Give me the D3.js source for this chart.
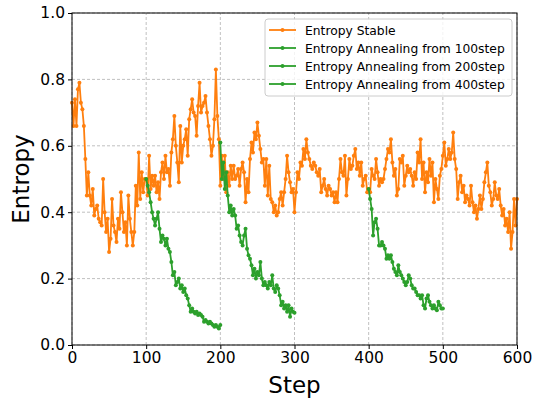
<!DOCTYPE html>
<html>
<head>
<meta charset="utf-8">
<script src="https://cdn.jsdelivr.net/npm/d3@7"></script>
<style>
  html, body { margin: 0; padding: 0; background: #fff; }
  svg { display: block; font-family: "DejaVu Sans", sans-serif; }
</style>
</head>
<body>
<svg id="chart" width="536" height="405"></svg>
<script>
// ---- data ----
const xTicks = [0, 100, 200, 300, 400, 500, 600];
const yTicks = [0.0, 0.2, 0.4, 0.6, 0.8, 1.0];
const seriesNames = ["Entropy Stable", "Entropy Annealing from 100step", "Entropy Annealing from 200step", "Entropy Annealing from 400step"];
const seriesColors = ["#ff7f0e", "#2ca02c", "#2ca02c", "#2ca02c"];

// Stable: steps 0..600 every 2
const stableStart = 0, stableEvery = 2;
const stableValues = [
  0.73, 0.66, 0.74, 0.66, 0.77, 0.79, 0.73, 0.71, 0.66, 0.56,
  0.45, 0.52, 0.45, 0.42, 0.47, 0.39, 0.41, 0.42, 0.38, 0.37,
  0.36, 0.50, 0.40, 0.34, 0.38, 0.28, 0.32, 0.44, 0.36, 0.34,
  0.31, 0.38, 0.35, 0.46, 0.40, 0.34, 0.37, 0.30, 0.45, 0.38,
  0.34, 0.30, 0.34, 0.48, 0.42, 0.58, 0.44, 0.52, 0.46, 0.50,
  0.50, 0.45, 0.57, 0.47, 0.51, 0.48, 0.51, 0.46, 0.49, 0.44,
  0.52, 0.55, 0.50, 0.57, 0.52, 0.53, 0.48, 0.58, 0.62, 0.69,
  0.60, 0.55, 0.49, 0.66, 0.55, 0.60, 0.62, 0.65, 0.57, 0.68,
  0.71, 0.74, 0.70, 0.69, 0.63, 0.72, 0.79, 0.70, 0.72, 0.73,
  0.75, 0.70, 0.66, 0.62, 0.57, 0.60, 0.68, 0.83, 0.69, 0.62,
  0.48, 0.57, 0.50, 0.57, 0.46, 0.52, 0.48, 0.54, 0.50, 0.54,
  0.50, 0.51, 0.53, 0.48, 0.53, 0.55, 0.52, 0.43, 0.50, 0.46,
  0.56, 0.61, 0.58, 0.64, 0.62, 0.67, 0.63, 0.59, 0.55, 0.56,
  0.48, 0.56, 0.45, 0.54, 0.44, 0.43, 0.40, 0.42, 0.39, 0.40,
  0.44, 0.46, 0.42, 0.46, 0.50, 0.57, 0.52, 0.49, 0.46, 0.47,
  0.40, 0.46, 0.52, 0.50, 0.55, 0.54, 0.59, 0.56, 0.62, 0.58,
  0.56, 0.54, 0.53, 0.55, 0.54, 0.52, 0.51, 0.53, 0.46, 0.48,
  0.50, 0.47, 0.45, 0.48, 0.47, 0.45, 0.46, 0.43, 0.46, 0.43,
  0.50, 0.56, 0.52, 0.51, 0.57, 0.45, 0.50, 0.56, 0.53, 0.54,
  0.57, 0.59, 0.53, 0.55, 0.51, 0.55, 0.48, 0.50, 0.51, 0.46,
  0.47, 0.46, 0.53, 0.51, 0.50, 0.56, 0.52, 0.48, 0.50, 0.49,
  0.50, 0.53, 0.56, 0.59, 0.58, 0.62, 0.55, 0.51, 0.53, 0.45,
  0.47, 0.56, 0.55, 0.57, 0.48, 0.51, 0.54, 0.52, 0.53, 0.51,
  0.48, 0.52, 0.50, 0.58, 0.55, 0.62, 0.50, 0.55, 0.46, 0.52,
  0.49, 0.56, 0.51, 0.55, 0.43, 0.50, 0.47, 0.44, 0.51, 0.53,
  0.57, 0.61, 0.54, 0.56, 0.59, 0.56, 0.58, 0.64, 0.56, 0.53,
  0.44, 0.49, 0.51, 0.46, 0.48, 0.43, 0.45, 0.44, 0.42, 0.48,
  0.43, 0.40, 0.42, 0.38, 0.41, 0.45, 0.41, 0.44, 0.49, 0.52,
  0.55, 0.48, 0.46, 0.42, 0.44, 0.49, 0.45, 0.44, 0.47, 0.42,
  0.39, 0.41, 0.36, 0.38, 0.34, 0.40, 0.29, 0.34, 0.44, 0.36,
  0.44
];

// Annealing from 100: steps 100..200 every 2
const anneal100Start = 100, annealEvery = 2;
const anneal100Values = [
  0.50, 0.48, 0.46, 0.43, 0.40, 0.38, 0.36, 0.38, 0.40, 0.35,
  0.31, 0.33, 0.32, 0.30, 0.32, 0.29, 0.28, 0.25, 0.21, 0.22,
  0.18, 0.19, 0.20, 0.17, 0.18, 0.16, 0.17, 0.15, 0.14, 0.12,
  0.10, 0.11, 0.10, 0.095, 0.10, 0.09, 0.095, 0.09, 0.085, 0.07,
  0.075, 0.07, 0.065, 0.07, 0.065, 0.06, 0.055, 0.06, 0.055, 0.05,
  0.06
];

// Annealing from 200: steps 200..300 every 2
const anneal200Start = 200;
const anneal200Values = [
  0.61, 0.50, 0.55, 0.47, 0.52, 0.45, 0.40, 0.42, 0.39, 0.41,
  0.39, 0.35, 0.36, 0.33, 0.31, 0.30, 0.33, 0.35, 0.29, 0.27,
  0.26, 0.24, 0.21, 0.23, 0.20, 0.22, 0.21, 0.25, 0.20, 0.18,
  0.19, 0.18, 0.17, 0.19, 0.18, 0.21, 0.17, 0.16, 0.18, 0.17,
  0.15, 0.12, 0.13, 0.11, 0.12, 0.10, 0.12, 0.085, 0.11, 0.10,
  0.097
];

// Annealing from 400: steps 400..500 every 2
const anneal400Start = 400;
const anneal400Values = [
  0.47, 0.44, 0.41, 0.33, 0.37, 0.38, 0.35, 0.30, 0.30, 0.31,
  0.30, 0.29, 0.26, 0.27, 0.26, 0.27, 0.25, 0.23, 0.22, 0.21,
  0.24, 0.22, 0.21, 0.20, 0.19, 0.18, 0.19, 0.21, 0.20, 0.18,
  0.17, 0.17, 0.16, 0.15, 0.15, 0.14, 0.15, 0.12, 0.11, 0.14,
  0.15, 0.13, 0.12, 0.11, 0.12, 0.11, 0.105, 0.13, 0.12, 0.11,
  0.11
];

// ---- build ----
function toPoints(start, every, vals) {
  return vals.map((v, i) => ({ x: start + i * every, y: v }));
}
const series = [
  toPoints(stableStart, stableEvery, stableValues),
  toPoints(anneal100Start, annealEvery, anneal100Values),
  toPoints(anneal200Start, annealEvery, anneal200Values),
  toPoints(anneal400Start, annealEvery, anneal400Values)
];

const margin = { left: 72, right: 19, top: 13, bottom: 60 };
const W = 536, H = 405;
const svg = d3.select("#chart");
const x = d3.scaleLinear().domain([0, 600]).range([margin.left, W - margin.right]);
const y = d3.scaleLinear().domain([0, 1]).range([H - margin.bottom, margin.top]);

// grid
const grid = svg.append("g");
grid.selectAll("line.vx").data(xTicks).enter().append("line")
  .attr("x1", d => x(d)).attr("x2", d => x(d))
  .attr("y1", y(0)).attr("y2", y(1))
  .attr("stroke", "#b0b0b0").attr("stroke-width", 0.8).attr("stroke-dasharray", "3,2");
grid.selectAll("line.hy").data(yTicks).enter().append("line")
  .attr("y1", d => y(d)).attr("y2", d => y(d))
  .attr("x1", x(0)).attr("x2", x(600))
  .attr("stroke", "#b0b0b0").attr("stroke-width", 0.8).attr("stroke-dasharray", "3,2");

// series
const line = d3.line().x(d => x(d.x)).y(d => y(d.y));
series.forEach((pts, i) => {
  const g = svg.append("g");
  g.append("path").datum(pts).attr("d", line)
    .attr("fill", "none").attr("stroke", seriesColors[i]).attr("stroke-width", 1.8)
    .attr("stroke-linejoin", "round");
  g.selectAll("circle").data(pts).enter().append("circle")
    .attr("cx", d => x(d.x)).attr("cy", d => y(d.y)).attr("r", 2)
    .attr("fill", seriesColors[i]);
});

// axes
const xAxis = d3.axisBottom(x).tickValues(xTicks).tickFormat(d3.format("d")).tickSize(4).tickPadding(3);
const yAxis = d3.axisLeft(y).tickValues(yTicks).tickFormat(d3.format(".1f")).tickSize(4).tickPadding(3);
const gx = svg.append("g").attr("transform", `translate(0,${y(0)})`).call(xAxis);
const gy = svg.append("g").attr("transform", `translate(${x(0)},0)`).call(yAxis);
[gx, gy].forEach(g => {
  g.select(".domain").remove();
  g.selectAll("text").attr("font-family", "DejaVu Sans").attr("font-size", 15.5).attr("fill", "#000");
  g.selectAll("line").attr("stroke", "#000").attr("stroke-width", 1);
});

// frame
svg.append("rect").attr("x", x(0)).attr("y", y(1))
  .attr("width", x(600) - x(0)).attr("height", y(0) - y(1))
  .attr("fill", "none").attr("stroke", "#000").attr("stroke-width", 1);

// axis labels
svg.append("text").attr("x", (x(0) + x(600)) / 2).attr("y", 393)
  .attr("text-anchor", "middle").attr("font-size", 23).text("Step");
svg.append("text").attr("transform", `translate(29,${(y(0) + y(1)) / 2}) rotate(-90)`)
  .attr("text-anchor", "middle").attr("font-size", 23).text("Entropy");

// legend
const lg = svg.append("g").attr("transform", "translate(265,19)");
lg.append("rect").attr("width", 247).attr("height", 77).attr("rx", 3)
  .attr("fill", "#fff").attr("fill-opacity", 0.8).attr("stroke", "#cccccc").attr("stroke-width", 1);
seriesNames.forEach((name, i) => {
  const yy = 11 + i * 18;
  lg.append("line").attr("x1", 4).attr("x2", 31).attr("y1", yy).attr("y2", yy)
    .attr("stroke", seriesColors[i]).attr("stroke-width", 1.8);
  lg.append("circle").attr("cx", 17.5).attr("cy", yy).attr("r", 2).attr("fill", seriesColors[i]);
  lg.append("text").attr("x", 40).attr("y", yy + 4.5).attr("font-size", 12.3).attr("fill", "#000").text(name);
});
</script>
</body>
</html>
